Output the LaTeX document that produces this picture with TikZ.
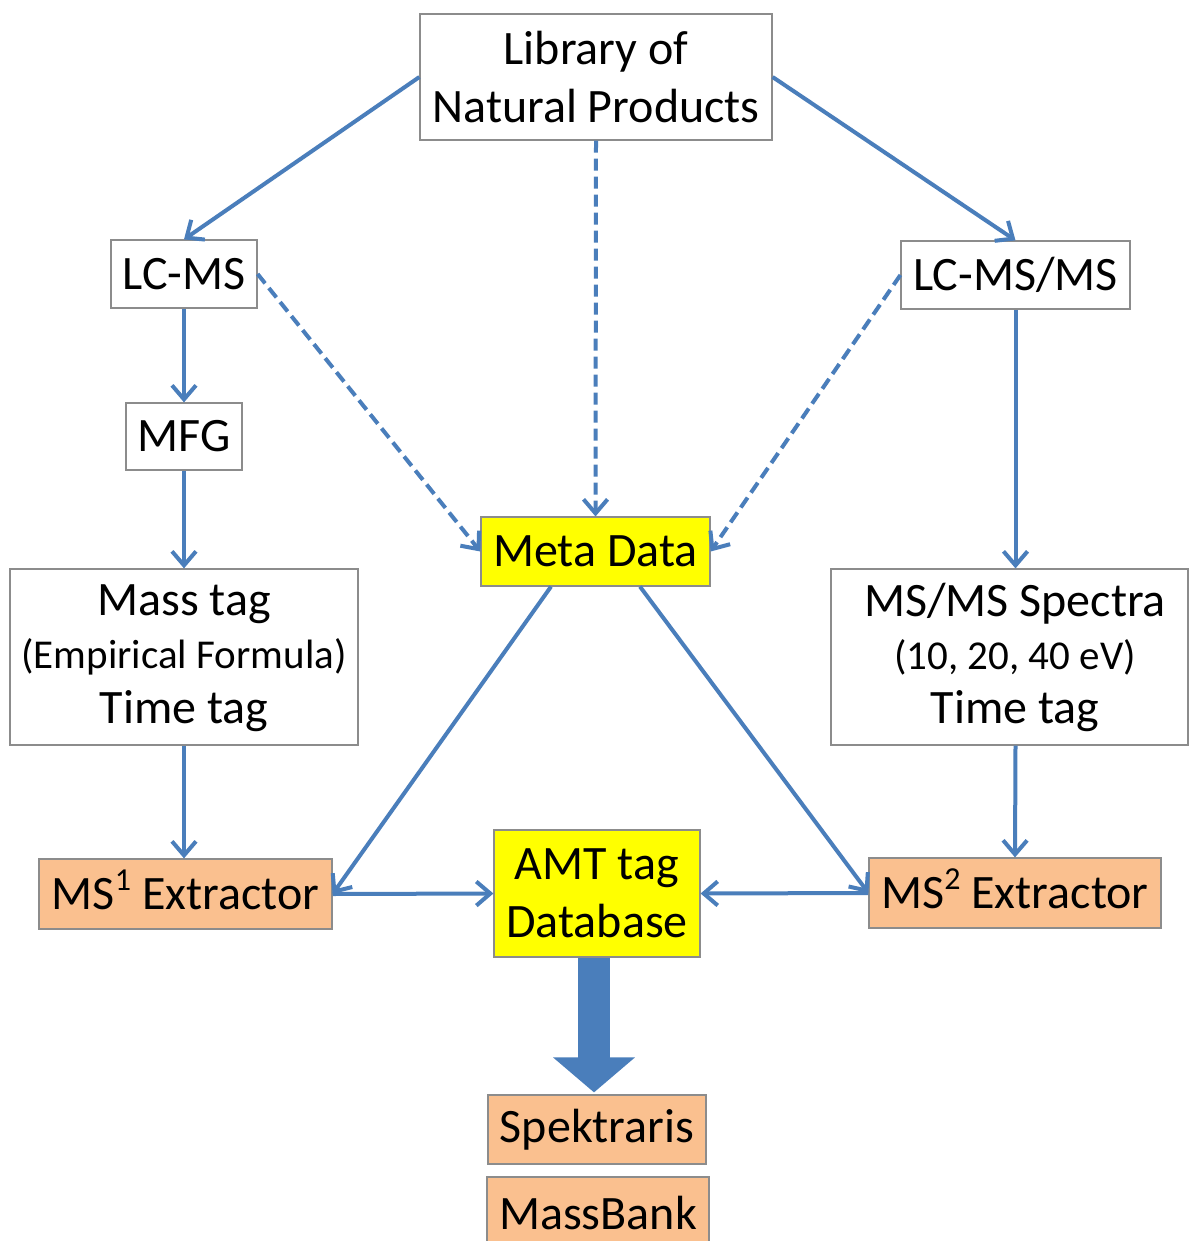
\documentclass[tikz,border=0pt]{standalone}
\usepackage{fontspec}
\setmainfont{Carlito}
\usetikzlibrary{arrows.meta}
\definecolor{arrblue}{HTML}{4A7EBB}
\definecolor{boxgray}{HTML}{8C8C8C}
\definecolor{orangefill}{HTML}{FAC08F}
\definecolor{yel}{HTML}{FFFF00}
\newcommand{\supnum}[1]{\raisebox{0.40em}[0pt][0pt]{\fontsize{32}{32}\selectfont #1}}
\tikzset{
  box/.style={draw=boxgray, line width=1.2pt, inner sep=0pt, align=center,
    font=\fontsize{48}{58}\selectfont},
  txt/.style={inner sep=0pt, font=\fontsize{48}{58}\selectfont},
  smalltxt/.style={inner sep=0pt, font=\fontsize{41}{48}\selectfont},
  conn/.style={draw=arrblue, line width=4pt, -{Straight Barb[length=14pt,width=24pt]}},
  dconn/.style={conn, dash pattern=on 12pt off 6pt},
}
\begin{document}
\begin{tikzpicture}[x=1pt,y=-1pt]
\useasboundingbox (0,0) rectangle (1189,1241);
\fill[white] (0,0) rectangle (1189,1241);

\node[box, minimum width=352pt, minimum height=126pt] (lib) at (596,77) {Library of\\Natural Products};
\node[box, minimum width=146pt, minimum height=68pt] (lcms) at (184,274) {LC-MS};
\node[box, minimum width=229pt, minimum height=68pt] (lcmsms) at (1015.5,275) {LC-MS/MS};
\node[box, minimum width=116pt, minimum height=67pt] (mfg) at (184,436.5) {MFG};
\node[box, minimum width=348pt, minimum height=176pt] (mass) at (184,657) {};
\node[txt] (masst1) at (184,604) {Mass tag};
\node[smalltxt] (masst2) at (184,657) {(Empirical Formula)};
\node[txt] (masst3) at (184,711) {Time tag};
\node[box, fill=yel, minimum width=229pt, minimum height=69pt] (meta) at (595.5,551.5) {Meta Data};
\node[box, minimum width=357pt, minimum height=176pt] (spec) at (1009.5,657) {};
\node[txt] (spect1) at (1015,604) {MS/MS Spectra};
\node[smalltxt] (spect2) at (1015,657) {(10, 20, 40 eV)};
\node[txt] (spect3) at (1015,711) {Time tag};
\node[box, fill=orangefill, minimum width=293pt, minimum height=70pt] (ms1) at (185.5,894) {MS\supnum{1} Extractor};
\node[box, fill=yel, minimum width=206pt, minimum height=127pt] (amt) at (597,893.5) {AMT tag\\Database};
\node[box, fill=orangefill, minimum width=292pt, minimum height=70pt] (ms2) at (1015,893) {MS\supnum{2} Extractor};
\node[box, fill=orangefill, minimum width=218pt, minimum height=69pt] (spek) at (597,1129.5) {Spektraris};
\node[box, fill=orangefill, minimum width=222pt, minimum height=72pt] (mbank) at (598,1213) {MassBank};

\draw[conn] (lib.west) -- (lcms.north);
\draw[conn] (lib.east) -- (lcmsms.north);
\draw[dconn] (lib.south) -- (meta.north);
\draw[dconn] (lcms.east) -- (meta.west);
\draw[dconn] (lcmsms.west) -- (meta.east);
\draw[conn] (lcms.south) -- (mfg.north);
\draw[conn] (mfg.south) -- (mass.north);
\draw[conn] (mass.south) -- (ms1.north -| mass.south);
\draw[conn] (lcmsms.south) -- (spec.north -| lcmsms.south);
\draw[conn] (spec.south -| lcmsms.south) -- (ms2.north);
\draw[conn] ([xshift=-44.5pt]meta.south) -- (ms1.east);
\draw[conn] ([xshift=44.5pt]meta.south) -- (ms2.west);
\draw[conn] (ms1.east) -- (amt.west);
\draw[conn] (ms2.west) -- (amt.east);
\draw[arrblue, line width=32pt, -{Triangle[length=35pt,width=80pt]}]
  ([xshift=-3pt]amt.south) -- ([xshift=-3pt,yshift=2pt]spek.north);
\end{tikzpicture}
\end{document}
